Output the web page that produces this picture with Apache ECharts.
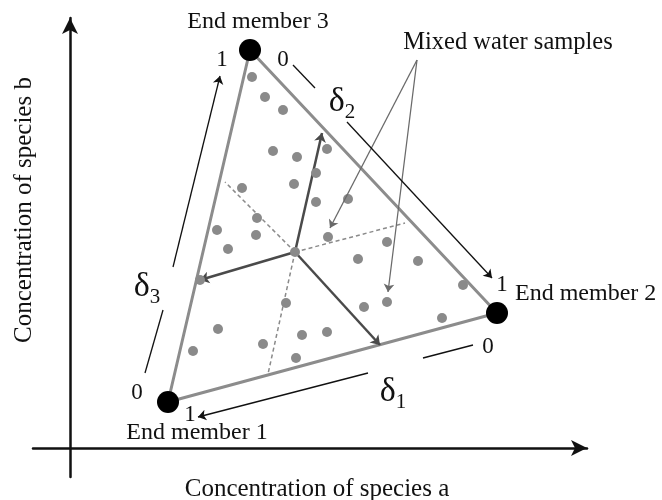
<!DOCTYPE html>
<html>
<head>
<meta charset="utf-8">
<script src="https://cdn.jsdelivr.net/npm/echarts@6/dist/echarts.min.js"></script>
<style>
  html, body { margin: 0; padding: 0; background: #fff; }
  #main { width: 662px; height: 500px; }
</style>
</head>
<body>
<div id="main"></div>
<script>
// coordinates in concentration units (origin = axis crossing)
var endMembers = [[98, 46], [427, 135], [180, 398]];   // EM1, EM2, EM3
var mixPoint = [225, 196];
var solidTips = [[252, 315], [130, 168], [310, 103]];
var dashEnds = [[155, 266], [335, 225], [198, 74]];
var samples = [
  [182, 371], [195, 351], [213, 338], [203, 297], [227, 291], [257, 299], [246, 275],
  [224, 264], [246, 246], [278, 249], [172, 260], [187, 230], [186, 213], [147, 218],
  [158, 199], [258, 211], [317, 206], [288, 189], [348, 187], [393, 163], [130, 168],
  [225, 196], [216, 145], [148, 119], [123, 97], [193, 104], [232, 113], [257, 116],
  [226, 90], [294, 141], [317, 146], [372, 130]
];
var pointerFrom = [347, 388];
var pointerTips = [[260, 220], [318, 156]];
// delta scale arrows: tick segments and arrows
var deltaTicks = [[[223, 383], [245, 360]], [[75, 75], [93, 138]], [[353, 90], [403, 103]]];
var deltaArrows = [[[277, 326], [422, 170]], [[103, 181], [150, 372]], [[298, 75], [128, 31]]];
var numLabels = [
  ['1', 152, 388], ['0', 213, 388], ['1', 432, 163],
  ['0', 418, 101], ['1', 120, 33], ['0', 67, 55]
];
var deltaLabels = [['2', 272, 346], ['3', 77, 161], ['1', 323, 56]];
var memberLabels = [
  ['End member 3', 188, 426, 'center'],
  ['End member 2', 445, 154, 'left'],
  ['End member 1', 127, 15, 'center']
];
var noteLabel = ['Mixed water samples', 438, 405];
var xTitle = 'Concentration of species a';
var yTitle = 'Concentration of species b';

var serif = 'Liberation Serif';
var chart = echarts.init(document.getElementById('main'));

function seg(list) {
  return list.map(function (c) { return { coords: c }; });
}

var option = {
  backgroundColor: '#fff',
  animation: false,
  grid: { left: 33, right: 75, top: 18, bottom: 23, containLabel: false, outerBoundsMode: 'none' },
  xAxis: {
    type: 'value', min: -37, max: 517,
    axisLine: { show: true, symbol: ['none', 'arrow'], symbolSize: [12, 16], lineStyle: { color: '#111', width: 2.5 } },
    axisTick: { show: false }, axisLabel: { show: false }, splitLine: { show: false }
  },
  yAxis: {
    type: 'value', min: -29, max: 430,
    axisLine: { show: true, symbol: ['none', 'arrow'], symbolSize: [12, 16], lineStyle: { color: '#111', width: 2.5 } },
    axisTick: { show: false }, axisLabel: { show: false }, splitLine: { show: false }
  },
  graphic: [
    {
      type: 'text', x: 317, y: 489,
      style: { text: xTitle, fontFamily: serif, fontSize: 25, fill: '#111', align: 'center', verticalAlign: 'middle' }
    },
    {
      type: 'text', x: 24, y: 210, rotation: Math.PI / 2,
      style: { text: yTitle, fontFamily: serif, fontSize: 25, fill: '#111', align: 'center', verticalAlign: 'middle' }
    }
  ],
  series: [
    {
      type: 'line', data: endMembers.concat([endMembers[0]]),
      symbol: 'none', lineStyle: { color: '#8c8c8c', width: 3 }, z: 2
    },
    {
      type: 'lines', coordinateSystem: 'cartesian2d', z: 3,
      data: seg(dashEnds.map(function (e) { return [mixPoint, e]; })),
      lineStyle: { color: '#8a8a8a', width: 1.5, type: [4, 3], opacity: 1 }
    },
    {
      type: 'lines', coordinateSystem: 'cartesian2d', z: 4,
      symbol: ['none', 'arrow'], symbolSize: 9,
      data: seg(solidTips.map(function (e) { return [mixPoint, e]; })),
      lineStyle: { color: '#4a4a4a', width: 2.5, opacity: 1 }
    },
    {
      type: 'scatter', data: samples, symbolSize: 10, clip: false, z: 5,
      itemStyle: { color: '#8a8a8a', opacity: 1 }
    },
    {
      type: 'scatter', data: endMembers, symbolSize: 22, clip: false, z: 6,
      itemStyle: { color: '#000', opacity: 1 }
    },
    {
      type: 'lines', coordinateSystem: 'cartesian2d', z: 7,
      symbol: ['none', 'arrow'], symbolSize: 8,
      data: seg(pointerTips.map(function (e) { return [pointerFrom, e]; })),
      lineStyle: { color: '#6a6a6a', width: 1.3, opacity: 1 }
    },
    {
      type: 'lines', coordinateSystem: 'cartesian2d', z: 7,
      data: seg(deltaTicks),
      lineStyle: { color: '#111', width: 1.3, opacity: 1 }
    },
    {
      type: 'lines', coordinateSystem: 'cartesian2d', z: 7,
      symbol: ['none', 'arrow'], symbolSize: 8,
      data: seg(deltaArrows),
      lineStyle: { color: '#111', width: 1.3, opacity: 1 }
    },
    {
      type: 'scatter', symbolSize: 0, clip: false, z: 8,
      itemStyle: { opacity: 1 },
      data: numLabels.map(function (d) { return { name: d[0], value: [d[1], d[2]] }; }),
      label: { show: true, position: 'inside', formatter: '{b}', fontFamily: serif, fontSize: 23, color: '#111' }
    },
    {
      type: 'scatter', symbolSize: 0, clip: false, z: 8,
      itemStyle: { opacity: 1 },
      data: deltaLabels.map(function (d) { return { name: d[0], value: [d[1], d[2]] }; }),
      label: {
        show: true, position: 'inside', color: '#111',
        formatter: function (p) { return '{d|δ}{s|' + p.name + '}'; },
        rich: {
          d: { fontFamily: serif, fontSize: 34, color: '#111' },
          s: { fontFamily: serif, fontSize: 21, color: '#111', padding: [20, 0, 0, 0] }
        }
      }
    },
    {
      type: 'scatter', symbolSize: 0, clip: false, z: 8,
      itemStyle: { opacity: 1 },
      data: memberLabels.map(function (d) {
        return { name: d[0], value: [d[1], d[2]], label: { align: d[3] } };
      }),
      label: { show: true, position: 'inside', formatter: '{b}', fontFamily: serif, fontSize: 24, color: '#111' }
    },
    {
      type: 'scatter', symbolSize: 0, clip: false, z: 8,
      itemStyle: { opacity: 1 },
      data: [{ name: noteLabel[0], value: [noteLabel[1], noteLabel[2]] }],
      label: { show: true, position: 'inside', formatter: '{b}', fontFamily: serif, fontSize: 24.5, color: '#111' }
    }
  ]
};
chart.setOption(option);
</script>
</body>
</html>
